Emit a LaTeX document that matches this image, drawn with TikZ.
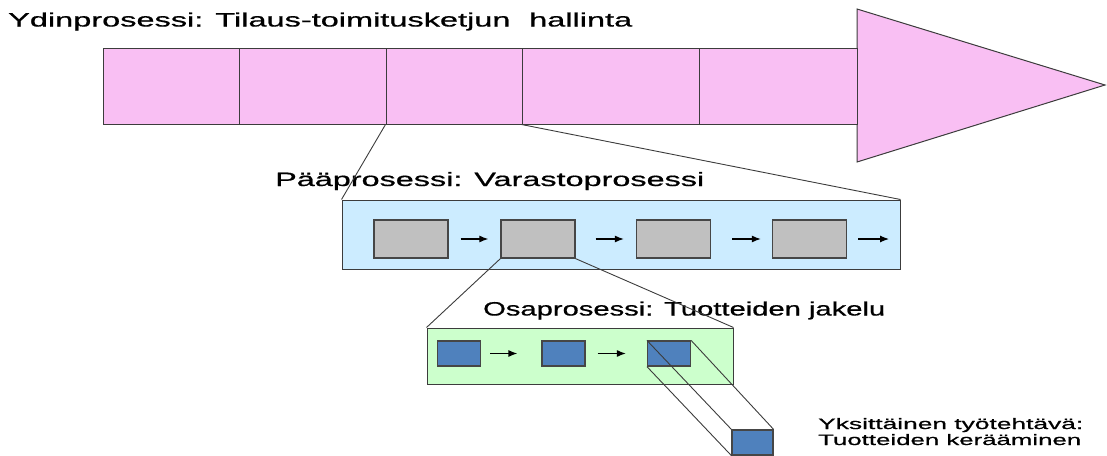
\documentclass[tikz,border=0pt]{standalone}
\usepackage{fontspec}
\setmainfont{Liberation Sans}[FakeBold=0.6]
\usepackage{graphicx}
\usetikzlibrary{arrows.meta}
\definecolor{pinkfill}{RGB}{249,191,243}
\definecolor{bluefill}{RGB}{204,236,255}
\definecolor{grayfill}{RGB}{192,192,192}
\definecolor{greenfill}{RGB}{204,255,204}
\definecolor{taskblue}{RGB}{79,129,189}
\definecolor{edge}{RGB}{60,60,60}
\definecolor{boxedge}{RGB}{70,70,70}
\tikzset{
  seg/.style={draw=edge, fill=pinkfill, line width=1pt, inner sep=0pt, minimum height=76pt},
  panel/.style={draw=edge, line width=1pt, inner sep=0pt},
  graybox/.style={draw=boxedge, fill=grayfill, line width=1.3pt, inner sep=0pt, minimum width=74pt, minimum height=38pt},
  smallbox/.style={draw=boxedge, fill=taskblue, line width=1.2pt, inner sep=0pt, minimum width=43pt, minimum height=25pt},
  flow/.style={-{Latex[length=9pt,width=7pt]}, line width=1.2pt, black},
  zoomline/.style={draw=edge, line width=0.9pt},
  lbl/.style={anchor=base west, inner sep=0pt}
}
\begin{document}
\begin{tikzpicture}[x=1pt,y=-1pt]
\useasboundingbox (0,0) rectangle (1107,455);
% top arrow
\draw[draw=edge, fill=pinkfill, line width=1pt] (857,9) -- (1105,85) -- (857,162) -- cycle;
\node[seg, minimum width=136pt] (s1) at (171,86) {};
\node[seg, minimum width=147pt] (s2) at (312.5,86) {};
\node[seg, minimum width=136pt] (s3) at (454,86) {};
\node[seg, minimum width=177pt] (s4) at (610.5,86) {};
\node[seg, minimum width=158pt] (s5) at (778,86) {};
\node[lbl] (t1) at (8,26.5) {\resizebox{624pt}{14pt}{Ydinprosessi: Tilaus-toimitusketjun\hspace{0.3em} hallinta}};
% main process panel
\node[panel, fill=bluefill, minimum width=558pt, minimum height=69pt] (main) at (621,234.5) {};
\node[lbl] (t2) at (275,186) {\resizebox{429pt}{14pt}{Pääprosessi: Varastoprosessi}};
\node[graybox] (g1) at (411,239) {};
\node[graybox] (g2) at (538,239) {};
\node[graybox] (g3) at (673.5,239) {};
\node[graybox] (g4) at (809.5,239) {};
\coordinate (ge) at (889,239);
\draw[flow] ([xshift=12pt]g1.east) -- ([xshift=-12pt]g2.west);
\draw[flow] ([xshift=20pt]g2.east) -- ([xshift=-12pt]g3.west);
\draw[flow] ([xshift=21pt]g3.east) -- ([xshift=-11pt]g4.west);
\draw[flow] ([xshift=11pt]g4.east) -- (ge);
\draw[zoomline] (s3.south west) -- (main.north west);
\draw[zoomline] (s4.south west) -- (main.north east);
% sub process panel
\node[panel, fill=greenfill, minimum width=306pt, minimum height=56pt] (sub) at (580,356) {};
\node[lbl] (t3) at (483,315.5) {\resizebox{402pt}{14pt}{Osaprosessi: Tuotteiden jakelu}};
\node[smallbox] (b1) at (459,353.5) {};
\node[smallbox] (b2) at (563.5,353.5) {};
\node[smallbox] (b3) at (669,353.5) {};
\draw[flow] ([xshift=9pt]b1.east) -- ([xshift=-24pt]b2.west);
\draw[flow] ([xshift=12pt]b2.east) -- ([xshift=-21pt]b3.west);
\draw[zoomline] (g2.south west) -- (sub.north west);
\draw[zoomline] (g2.south east) -- (sub.north east);
% single task
\node[smallbox, minimum width=41pt] (task) at (752.5,442.5) {};
\draw[zoomline] (b3.north west) -- (task.north west);
\draw[zoomline] (b3.south west) -- (task.south west);
\draw[zoomline] (b3.north east) -- (task.north east);
\node[lbl] (t4) at (818,429) {\resizebox{265pt}{11pt}{Yksittäinen työtehtävä:}};
\node[lbl] (t5) at (818,445) {\resizebox{263pt}{11pt}{Tuotteiden kerääminen}};
\end{tikzpicture}
\end{document}
